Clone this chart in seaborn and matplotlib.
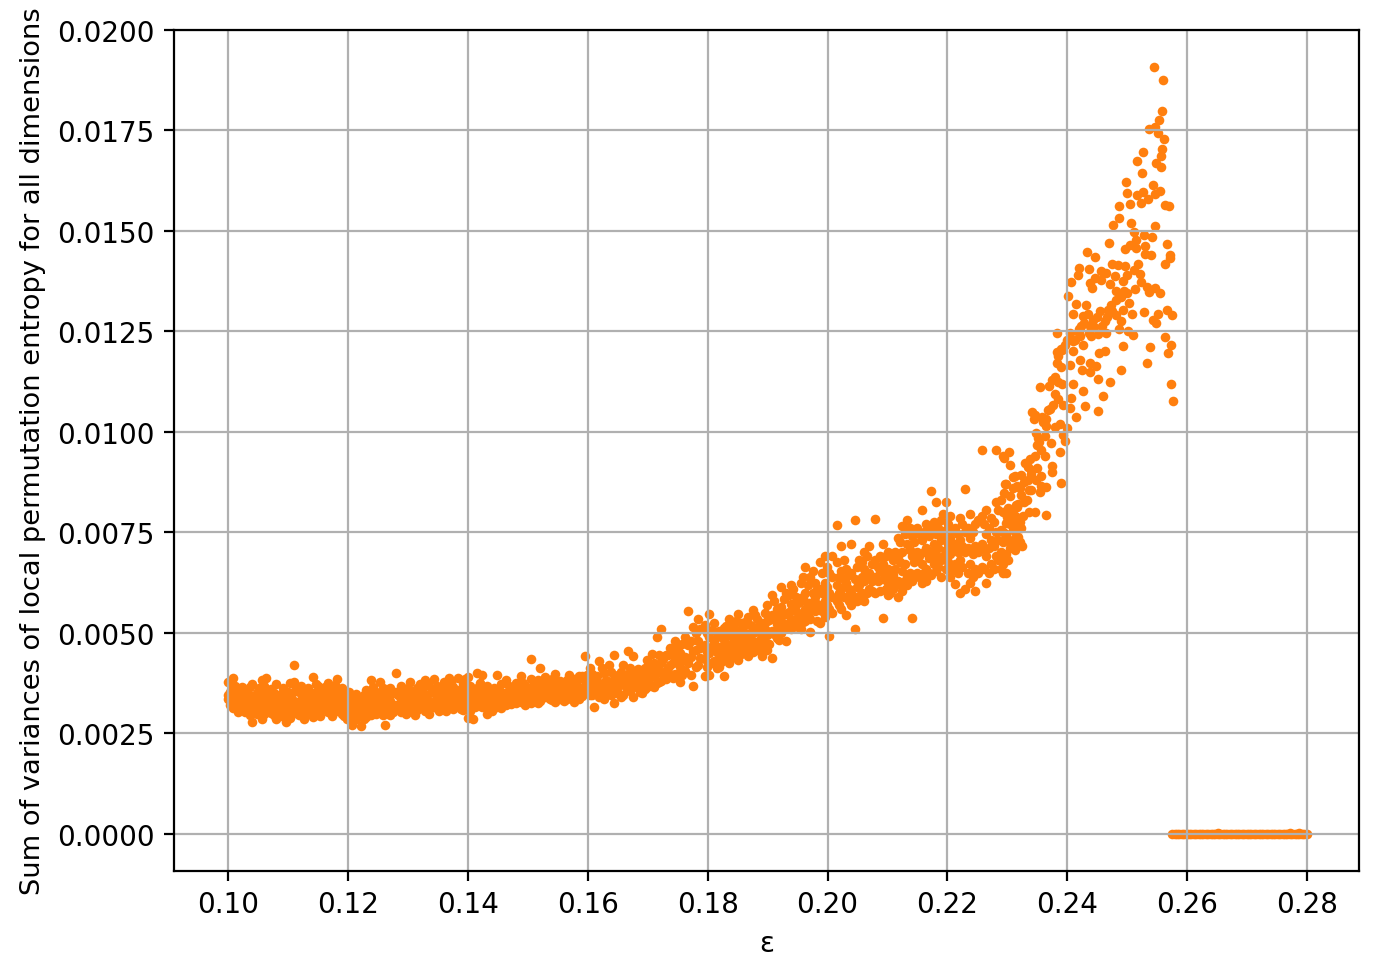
import matplotlib
matplotlib.use('Agg')
import matplotlib.pyplot as plt
import pandas as pd
import seaborn as sns

# each row: epsilon, then the values read at that epsilon
low_band = [
    (0.1000, 0.00378, 0.00345, 0.00335), (0.1008, 0.00388, 0.00362, 0.00328, 0.00312), (0.1016, 0.00352, 0.00330, 0.00302),
    (0.1024, 0.00365, 0.00340, 0.00318), (0.1032, 0.00358, 0.00325, 0.00308), (0.1040, 0.00372, 0.00342, 0.00315, 0.00278),
    (0.1048, 0.00350, 0.00322, 0.00298), (0.1056, 0.00382, 0.00355, 0.00330, 0.00285), (0.1064, 0.00388, 0.00345, 0.00312),
    (0.1072, 0.00360, 0.00335, 0.00300), (0.1080, 0.00372, 0.00328, 0.00305, 0.00285), (0.1088, 0.00348, 0.00318, 0.00292),
    (0.1096, 0.00345, 0.00325, 0.00278), (0.1104, 0.00375, 0.00338, 0.00310, 0.00288), (0.1110, 0.00420, 0.00378, 0.00330, 0.00300),
    (0.1118, 0.00352, 0.00322, 0.00296), (0.1126, 0.00340, 0.00312, 0.00285), (0.1134, 0.00362, 0.00328, 0.00305),
    (0.1142, 0.00390, 0.00350, 0.00318, 0.00290), (0.1150, 0.00368, 0.00335, 0.00300), (0.1158, 0.00355, 0.00325, 0.00310),
    (0.1166, 0.00375, 0.00342, 0.00302), (0.1174, 0.00345, 0.00320, 0.00292), (0.1182, 0.00385, 0.00352, 0.00328, 0.00305),
    (0.1190, 0.00362, 0.00330, 0.00298), (0.1198, 0.00345, 0.00315, 0.00285), (0.1206, 0.00335, 0.00305, 0.00272),
    (0.1214, 0.00348, 0.00318, 0.00285), (0.1222, 0.00332, 0.00300, 0.00268), (0.1230, 0.00358, 0.00325, 0.00290),
    (0.1238, 0.00382, 0.00345, 0.00312, 0.00295), (0.1246, 0.00352, 0.00322, 0.00298), (0.1254, 0.00378, 0.00335, 0.00305),
    (0.1262, 0.00350, 0.00318, 0.00272), (0.1270, 0.00362, 0.00330, 0.00295), (0.1280, 0.00400, 0.00352, 0.00320),
    (0.1288, 0.00368, 0.00335, 0.00302), (0.1296, 0.00345, 0.00318, 0.00298), (0.1304, 0.00378, 0.00340, 0.00310),
    (0.1312, 0.00355, 0.00325, 0.00295), (0.1320, 0.00372, 0.00345, 0.00318), (0.1328, 0.00382, 0.00335, 0.00305),
    (0.1336, 0.00368, 0.00330, 0.00298), (0.1344, 0.00385, 0.00350, 0.00315), (0.1352, 0.00360, 0.00332, 0.00305),
    (0.1360, 0.00378, 0.00345, 0.00312), (0.1368, 0.00388, 0.00352, 0.00322), (0.1376, 0.00365, 0.00335, 0.00310),
    (0.1384, 0.00388, 0.00348, 0.00318), (0.1392, 0.00372, 0.00340, 0.00308), (0.1400, 0.00390, 0.00350, 0.00315, 0.00288),
    (0.1408, 0.00360, 0.00330, 0.00286), (0.1416, 0.00400, 0.00362, 0.00325), (0.1424, 0.00395, 0.00345, 0.00315),
    (0.1432, 0.00368, 0.00332, 0.00298), (0.1440, 0.00355, 0.00325, 0.00305), (0.1448, 0.00395, 0.00348, 0.00318),
    (0.1456, 0.00372, 0.00340, 0.00312), (0.1464, 0.00382, 0.00335, 0.00320), (0.1472, 0.00358, 0.00338, 0.00322),
    (0.1480, 0.00375, 0.00345, 0.00325), (0.1488, 0.00392, 0.00352, 0.00328), (0.1496, 0.00368, 0.00342, 0.00320),
    (0.1505, 0.00435, 0.00385, 0.00348, 0.00325), (0.1513, 0.00378, 0.00352, 0.00332), (0.1521, 0.00412, 0.00362, 0.00330),
    (0.1529, 0.00390, 0.00350, 0.00340), (0.1537, 0.00375, 0.00355, 0.00335), (0.1545, 0.00398, 0.00362, 0.00328),
    (0.1553, 0.00380, 0.00350, 0.00335), (0.1561, 0.00372, 0.00358, 0.00330), (0.1569, 0.00395, 0.00360, 0.00342),
    (0.1577, 0.00385, 0.00352, 0.00328), (0.1585, 0.00392, 0.00362, 0.00335), (0.1595, 0.00442, 0.00380, 0.00350),
    (0.1603, 0.00412, 0.00372, 0.00345), (0.1611, 0.00385, 0.00358, 0.00315), (0.1619, 0.00430, 0.00375, 0.00340),
    (0.1627, 0.00400, 0.00365, 0.00335), (0.1635, 0.00420, 0.00378, 0.00348), (0.1643, 0.00445, 0.00385, 0.00325),
    (0.1651, 0.00395, 0.00368, 0.00350), (0.1659, 0.00420, 0.00382, 0.00345), (0.1667, 0.00455, 0.00398, 0.00358),
    (0.1675, 0.00442, 0.00385, 0.00340), (0.1683, 0.00410, 0.00380, 0.00362), (0.1691, 0.00395, 0.00372, 0.00350),
    (0.1699, 0.00432, 0.00392, 0.00365), (0.1707, 0.00448, 0.00400, 0.00368), (0.1715, 0.00490, 0.00415, 0.00375),
    (0.1722, 0.00510, 0.00425, 0.00380), (0.1730, 0.00445, 0.00405, 0.00385), (0.1738, 0.00462, 0.00420, 0.00392),
    (0.1746, 0.00480, 0.00435, 0.00398), (0.1754, 0.00450, 0.00415, 0.00378), (0.1762, 0.00490, 0.00440, 0.00405),
    (0.1768, 0.00555, 0.00470, 0.00425), (0.1776, 0.00515, 0.00455, 0.00368), (0.1784, 0.00535, 0.00480, 0.00420),
]

# second pass over the same band, the gaps between the first rows
low_fill = [
    (0.1004, 0.00352, 0.00320), (0.1012, 0.00368, 0.00342, 0.00318), (0.1020, 0.00358, 0.00312), (0.1028, 0.00350, 0.00328, 0.00302),
    (0.1036, 0.00365, 0.00336, 0.00295), (0.1044, 0.00332, 0.00308), (0.1052, 0.00362, 0.00335, 0.00312), (0.1060, 0.00368, 0.00322, 0.00298),
    (0.1068, 0.00348, 0.00322), (0.1076, 0.00350, 0.00318, 0.00295), (0.1084, 0.00338, 0.00312), (0.1092, 0.00362, 0.00335, 0.00305),
    (0.1100, 0.00352, 0.00322, 0.00298), (0.1107, 0.00350, 0.00325), (0.1114, 0.00362, 0.00312), (0.1122, 0.00368, 0.00332, 0.00305),
    (0.1130, 0.00350, 0.00322, 0.00298), (0.1138, 0.00345, 0.00315), (0.1146, 0.00372, 0.00335, 0.00305), (0.1154, 0.00350, 0.00318, 0.00292),
    (0.1162, 0.00365, 0.00335), (0.1170, 0.00358, 0.00328, 0.00310), (0.1178, 0.00370, 0.00335, 0.00305), (0.1186, 0.00342, 0.00315),
    (0.1194, 0.00350, 0.00322, 0.00292), (0.1202, 0.00352, 0.00325, 0.00298), (0.1210, 0.00328, 0.00292), (0.1218, 0.00335, 0.00305),
    (0.1226, 0.00345, 0.00315, 0.00285), (0.1234, 0.00335, 0.00305), (0.1242, 0.00365, 0.00332, 0.00305), (0.1250, 0.00342, 0.00312),
    (0.1258, 0.00362, 0.00325, 0.00295), (0.1266, 0.00342, 0.00310), (0.1275, 0.00350, 0.00318, 0.00302), (0.1284, 0.00345, 0.00310),
    (0.1292, 0.00355, 0.00328, 0.00308), (0.1300, 0.00362, 0.00330, 0.00302), (0.1308, 0.00348, 0.00322), (0.1316, 0.00362, 0.00335, 0.00308),
    (0.1324, 0.00355, 0.00325), (0.1332, 0.00372, 0.00345, 0.00318), (0.1340, 0.00358, 0.00322), (0.1348, 0.00368, 0.00338, 0.00312),
    (0.1356, 0.00350, 0.00322), (0.1364, 0.00365, 0.00335, 0.00305), (0.1372, 0.00375, 0.00342, 0.00315), (0.1380, 0.00352, 0.00325),
    (0.1388, 0.00360, 0.00332, 0.00310), (0.1396, 0.00385, 0.00355, 0.00325), (0.1404, 0.00368, 0.00342, 0.00305), (0.1412, 0.00350, 0.00315),
    (0.1420, 0.00375, 0.00352, 0.00332), (0.1428, 0.00358, 0.00325), (0.1436, 0.00350, 0.00312), (0.1444, 0.00362, 0.00335, 0.00312),
    (0.1452, 0.00358, 0.00330), (0.1460, 0.00350, 0.00328), (0.1468, 0.00368, 0.00345, 0.00328), (0.1476, 0.00352, 0.00332),
    (0.1484, 0.00362, 0.00338), (0.1492, 0.00375, 0.00355, 0.00335), (0.1500, 0.00362, 0.00338), (0.1509, 0.00368, 0.00342),
    (0.1517, 0.00382, 0.00350, 0.00325), (0.1525, 0.00375, 0.00345), (0.1533, 0.00362, 0.00345), (0.1541, 0.00385, 0.00345, 0.00332),
    (0.1549, 0.00372, 0.00342), (0.1557, 0.00365, 0.00342), (0.1565, 0.00382, 0.00350, 0.00335), (0.1573, 0.00372, 0.00345),
    (0.1581, 0.00378, 0.00348, 0.00335), (0.1590, 0.00392, 0.00362, 0.00342), (0.1599, 0.00395, 0.00360), (0.1607, 0.00398, 0.00365, 0.00345),
    (0.1615, 0.00392, 0.00352), (0.1623, 0.00412, 0.00365, 0.00340), (0.1631, 0.00382, 0.00352), (0.1639, 0.00402, 0.00368, 0.00345),
    (0.1647, 0.00378, 0.00350), (0.1655, 0.00402, 0.00372, 0.00340), (0.1663, 0.00392, 0.00365), (0.1671, 0.00412, 0.00378, 0.00355),
    (0.1679, 0.00402, 0.00368), (0.1687, 0.00395, 0.00372, 0.00352), (0.1695, 0.00412, 0.00380, 0.00360), (0.1703, 0.00415, 0.00385),
    (0.1711, 0.00425, 0.00392, 0.00365), (0.1719, 0.00445, 0.00405, 0.00378), (0.1726, 0.00435, 0.00395), (0.1734, 0.00445, 0.00412, 0.00392),
    (0.1742, 0.00452, 0.00425, 0.00388), (0.1750, 0.00465, 0.00428, 0.00395), (0.1758, 0.00472, 0.00432, 0.00395), (0.1772, 0.00480, 0.00440, 0.00395),
    (0.1780, 0.00500, 0.00458, 0.00415), (0.1788, 0.00510, 0.00462, 0.00438),
]

mid_band = [
    (0.1795, 0.00520, 0.00470, 0.00435, 0.00392), (0.1803, 0.00548, 0.00490, 0.00450, 0.00395), (0.1811, 0.00525, 0.00475, 0.00430),
    (0.1819, 0.00505, 0.00465, 0.00442, 0.00415), (0.1827, 0.00512, 0.00482, 0.00440, 0.00392), (0.1835, 0.00535, 0.00495, 0.00455, 0.00425),
    (0.1843, 0.00520, 0.00478, 0.00445), (0.1851, 0.00548, 0.00505, 0.00465, 0.00432), (0.1859, 0.00515, 0.00488, 0.00450),
    (0.1867, 0.00540, 0.00498, 0.00470, 0.00442), (0.1875, 0.00558, 0.00515, 0.00480, 0.00452), (0.1883, 0.00535, 0.00505, 0.00465),
    (0.1891, 0.00525, 0.00490, 0.00472, 0.00442), (0.1899, 0.00570, 0.00530, 0.00495, 0.00458), (0.1907, 0.00595, 0.00545, 0.00505, 0.00438),
    (0.1915, 0.00560, 0.00522, 0.00488), (0.1923, 0.00615, 0.00565, 0.00530, 0.00500), (0.1931, 0.00600, 0.00548, 0.00515, 0.00480),
    (0.1939, 0.00618, 0.00572, 0.00535, 0.00510), (0.1947, 0.00590, 0.00555, 0.00522), (0.1955, 0.00625, 0.00580, 0.00545, 0.00510),
    (0.1963, 0.00665, 0.00600, 0.00560, 0.00530), (0.1971, 0.00640, 0.00575, 0.00535, 0.00502), (0.1979, 0.00625, 0.00590, 0.00555),
    (0.1987, 0.00675, 0.00610, 0.00565, 0.00525), (0.1995, 0.00690, 0.00625, 0.00580, 0.00540), (0.2003, 0.00650, 0.00600, 0.00560, 0.00491),
    (0.2015, 0.00768, 0.00675, 0.00620, 0.00580), (0.2023, 0.00715, 0.00655, 0.00610, 0.00560), (0.2031, 0.00660, 0.00625, 0.00590, 0.00545),
    (0.2039, 0.00720, 0.00650, 0.00600, 0.00570), (0.2045, 0.00780, 0.00635, 0.00585, 0.00510), (0.2053, 0.00680, 0.00620, 0.00592),
    (0.2061, 0.00700, 0.00660, 0.00630, 0.00580), (0.2069, 0.00715, 0.00650, 0.00610), (0.2080, 0.00784, 0.00680, 0.00640, 0.00600),
    (0.2088, 0.00690, 0.00655, 0.00605), (0.2093, 0.00720, 0.00670, 0.00635, 0.00537), (0.2101, 0.00700, 0.00660, 0.00625, 0.00595),
    (0.2109, 0.00680, 0.00645, 0.00610), (0.2117, 0.00735, 0.00690, 0.00630, 0.00590), (0.2125, 0.00765, 0.00700, 0.00655, 0.00605),
    (0.2133, 0.00780, 0.00720, 0.00640, 0.00620), (0.2141, 0.00740, 0.00690, 0.00630, 0.00537), (0.2149, 0.00760, 0.00700, 0.00650),
    (0.2157, 0.00805, 0.00730, 0.00670, 0.00625), (0.2165, 0.00770, 0.00710, 0.00660, 0.00630), (0.2173, 0.00854, 0.00760, 0.00700, 0.00645),
    (0.2181, 0.00825, 0.00745, 0.00690, 0.00655), (0.2189, 0.00780, 0.00730, 0.00680, 0.00640), (0.2197, 0.00825, 0.00755, 0.00705, 0.00660),
    (0.2205, 0.00790, 0.00735, 0.00695, 0.00640), (0.2213, 0.00760, 0.00720, 0.00670, 0.00622), (0.2221, 0.00785, 0.00730, 0.00680, 0.00600),
    (0.2230, 0.00858, 0.00750, 0.00700, 0.00610), (0.2238, 0.00795, 0.00735, 0.00670, 0.00625), (0.2246, 0.00770, 0.00715, 0.00660, 0.00605),
    (0.2257, 0.00955, 0.00790, 0.00720, 0.00665), (0.2265, 0.00805, 0.00745, 0.00690, 0.00625), (0.2273, 0.00785, 0.00730, 0.00670),
    (0.2281, 0.00955, 0.00825, 0.00750, 0.00690), (0.2289, 0.00830, 0.00755, 0.00700, 0.00660), (0.2297, 0.00870, 0.00745, 0.00695, 0.00650),
    (0.2305, 0.00840, 0.00770, 0.00710), (0.2313, 0.00890, 0.00790, 0.00735, 0.00705), (0.2321, 0.00860, 0.00775, 0.00725),
]

mid_fill = [
    (0.1799, 0.00500, 0.00452, 0.00415), (0.1807, 0.00508, 0.00462, 0.00425), (0.1815, 0.00490, 0.00452, 0.00412), (0.1823, 0.00495, 0.00458, 0.00428),
    (0.1831, 0.00518, 0.00472, 0.00435), (0.1839, 0.00505, 0.00468, 0.00438), (0.1847, 0.00530, 0.00490, 0.00455), (0.1855, 0.00525, 0.00478, 0.00448),
    (0.1863, 0.00528, 0.00482, 0.00462), (0.1871, 0.00520, 0.00488, 0.00458), (0.1879, 0.00545, 0.00502, 0.00468), (0.1887, 0.00518, 0.00482, 0.00455),
    (0.1895, 0.00550, 0.00510, 0.00478), (0.1903, 0.00532, 0.00502, 0.00472), (0.1911, 0.00578, 0.00535, 0.00498), (0.1919, 0.00545, 0.00512, 0.00482),
    (0.1927, 0.00585, 0.00548, 0.00515), (0.1935, 0.00595, 0.00552, 0.00525), (0.1943, 0.00608, 0.00565, 0.00530), (0.1951, 0.00575, 0.00540, 0.00515),
    (0.1959, 0.00640, 0.00590, 0.00550, 0.00528), (0.1967, 0.00620, 0.00575, 0.00545), (0.1975, 0.00655, 0.00600, 0.00560), (0.1983, 0.00610, 0.00572, 0.00530),
    (0.1991, 0.00650, 0.00598, 0.00555), (0.1999, 0.00665, 0.00615, 0.00570), (0.2007, 0.00690, 0.00640, 0.00590, 0.00550), (0.2019, 0.00640, 0.00600, 0.00570),
    (0.2027, 0.00680, 0.00635, 0.00590), (0.2035, 0.00645, 0.00610, 0.00580), (0.2049, 0.00665, 0.00615, 0.00578), (0.2057, 0.00675, 0.00640, 0.00600),
    (0.2065, 0.00690, 0.00640, 0.00600), (0.2075, 0.00670, 0.00630, 0.00605), (0.2085, 0.00665, 0.00630), (0.2097, 0.00690, 0.00650, 0.00610),
    (0.2105, 0.00695, 0.00640, 0.00600), (0.2113, 0.00700, 0.00660, 0.00625), (0.2121, 0.00725, 0.00675, 0.00620), (0.2129, 0.00745, 0.00670, 0.00630),
    (0.2137, 0.00760, 0.00705, 0.00650), (0.2145, 0.00725, 0.00675, 0.00640), (0.2153, 0.00745, 0.00690, 0.00640), (0.2161, 0.00750, 0.00700, 0.00650),
    (0.2169, 0.00740, 0.00685, 0.00650), (0.2177, 0.00775, 0.00720, 0.00670), (0.2185, 0.00760, 0.00710, 0.00665), (0.2193, 0.00795, 0.00740, 0.00690),
    (0.2201, 0.00770, 0.00720, 0.00675), (0.2209, 0.00755, 0.00705, 0.00660), (0.2217, 0.00745, 0.00700, 0.00650), (0.2225, 0.00770, 0.00715, 0.00665),
    (0.2234, 0.00760, 0.00710, 0.00650), (0.2242, 0.00750, 0.00695, 0.00640), (0.2251, 0.00780, 0.00700, 0.00650), (0.2261, 0.00770, 0.00710, 0.00660),
    (0.2269, 0.00760, 0.00710, 0.00650), (0.2277, 0.00775, 0.00715, 0.00660), (0.2285, 0.00805, 0.00730, 0.00680), (0.2293, 0.00940, 0.00800, 0.00725, 0.00670),
    (0.2301, 0.00810, 0.00730, 0.00680), (0.2309, 0.00860, 0.00755, 0.00720), (0.2317, 0.00820, 0.00760, 0.00720),
]

# sparse upper part, single points
top_eps = [
    0.25439, 0.25589, 0.25572, 0.25522, 0.25456, 0.25356, 0.25506, 0.25606, 0.25572, 0.25556, 0.25256, 0.25156,
    0.25483, 0.25556, 0.25239, 0.24972, 0.25422, 0.24989, 0.25544, 0.25167, 0.25261, 0.25456, 0.25344, 0.25222,
    0.25039, 0.24856, 0.25628, 0.25694, 0.24856, 0.24756, 0.25067, 0.25456, 0.25106, 0.25278, 0.25406, 0.24689,
    0.25150, 0.25039, 0.24956, 0.25139, 0.25300, 0.25656, 0.24322, 0.24456, 0.25289, 0.25389, 0.25706, 0.25706,
    0.25622, 0.24750, 0.24844, 0.24956, 0.25172, 0.24189, 0.24356, 0.24172, 0.25106, 0.25206, 0.24556, 0.24650,
    0.24800, 0.24989, 0.24456, 0.24567, 0.24056, 0.24372, 0.24706, 0.24922, 0.25222, 0.25322, 0.24417, 0.25456,
    0.25544, 0.24006, 0.24806, 0.24944, 0.25122, 0.25356, 0.25000, 0.24150, 0.24306, 0.24817, 0.25022, 0.24733,
    0.24539, 0.24678, 0.24928, 0.25072, 0.25278, 0.25656, 0.25739, 0.25511, 0.25433, 0.25472, 0.24094, 0.24261,
    0.24344, 0.24428, 0.24622, 0.24889, 0.24233, 0.24372, 0.24861, 0.25011, 0.25089, 0.23822, 0.24189, 0.24400,
    0.24511, 0.24644, 0.25622, 0.25722, 0.25678, 0.25372, 0.24922, 0.25322, 0.24622, 0.24522, 0.23994, 0.24094,
    0.24261, 0.24206, 0.23822, 0.23917, 0.24094, 0.23844, 0.24206, 0.24372, 0.24483, 0.24039, 0.23889, 0.24239,
    0.24383, 0.24889, 0.23789, 0.24506, 0.24706, 0.23844, 0.23917, 0.24089, 0.23539, 0.23694, 0.25722, 0.24256,
    0.23789, 0.24589, 0.24061, 0.23844, 0.25756, 0.23761, 0.23928, 0.24289, 0.24039, 0.23706, 0.23411, 0.23456,
    0.24506, 0.23578, 0.23644, 0.23439, 0.24139, 0.23644, 0.23883, 0.23789, 0.23989, 0.23472, 0.23622, 0.23928,
    0.23511, 0.23733, 0.23956, 0.23494, 0.23567, 0.23872, 0.23622, 0.23022, 0.22944, 0.23039, 0.23378, 0.23289,
    0.23750, 0.23739, 0.23500, 0.23400, 0.23567, 0.23233, 0.23094, 0.23344, 0.23889, 0.22956, 0.23167, 0.23639,
    0.23544, 0.23389, 0.22944, 0.23278, 0.23333, 0.23139, 0.23083, 0.23361, 0.23461, 0.23639, 0.23194, 0.23000,
    0.22983, 0.23150, 0.23233, 0.22928, 0.23178, 0.23067, 0.23250, 0.23122, 0.22967, 0.22967, 0.22928,
    0.2420, 0.2428, 0.2436, 0.2444, 0.2450, 0.2458, 0.2466, 0.2474, 0.2482, 0.2490, 0.2412, 0.2404, 0.2396,
    0.2390, 0.2382, 0.2374, 0.2368, 0.2360, 0.2352, 0.2346, 0.2340, 0.2334, 0.2328, 0.2322, 0.2316, 0.2310,
    0.2304, 0.2298, 0.2336, 0.2348, 0.2356, 0.2326, 0.2318,
]
top_var = [
    0.01907, 0.01874, 0.01797, 0.01776, 0.01759, 0.01754, 0.01744, 0.01727, 0.01703, 0.01686, 0.01697, 0.01674,
    0.01669, 0.01659, 0.01644, 0.01622, 0.01614, 0.01593, 0.01599, 0.01589, 0.01596, 0.01592, 0.01578, 0.01569,
    0.01567, 0.01562, 0.01565, 0.01562, 0.01532, 0.01514, 0.01519, 0.01512, 0.01498, 0.01489, 0.01484, 0.01469,
    0.01478, 0.01465, 0.01454, 0.01456, 0.01463, 0.01467, 0.01447, 0.01434, 0.01443, 0.01439, 0.01439, 0.01432,
    0.01417, 0.01417, 0.01415, 0.01412, 0.01417, 0.01407, 0.01404, 0.01389, 0.01402, 0.01393, 0.01401, 0.01396,
    0.01388, 0.01389, 0.01382, 0.01378, 0.01372, 0.01369, 0.01368, 0.01374, 0.01372, 0.01361, 0.01357, 0.01357,
    0.01344, 0.01337, 0.01349, 0.01349, 0.01354, 0.01347, 0.01345, 0.01319, 0.01316, 0.01327, 0.01321, 0.01316,
    0.01300, 0.01302, 0.01304, 0.01292, 0.01298, 0.01302, 0.01290, 0.01292, 0.01277, 0.01271, 0.01292, 0.01289,
    0.01292, 0.01279, 0.01275, 0.01275, 0.01262, 0.01262, 0.01256, 0.01250, 0.01241, 0.01246, 0.01246, 0.01238,
    0.01242, 0.01246, 0.01236, 0.01216, 0.01196, 0.01211, 0.01213, 0.01171, 0.01201, 0.01196, 0.01228, 0.01225,
    0.01216, 0.01238, 0.01199, 0.01203, 0.01200, 0.01189, 0.01179, 0.01171, 0.01164, 0.01165, 0.01161, 0.01154,
    0.01149, 0.01154, 0.01136, 0.01131, 0.01124, 0.01125, 0.01119, 0.01119, 0.01111, 0.01114, 0.01120, 0.01101,
    0.01094, 0.01089, 0.01084, 0.01081, 0.01076, 0.01067, 0.01066, 0.01064, 0.01059, 0.01056, 0.01049, 0.01043,
    0.01051, 0.01037, 0.01032, 0.01032, 0.01037, 0.01015, 0.01019, 0.01012, 0.01009, 0.00997, 0.00990, 0.00993,
    0.00984, 0.00973, 0.00978, 0.00967, 0.00955, 0.00949, 0.00939, 0.00949, 0.00934, 0.00918, 0.00932, 0.00922,
    0.00914, 0.00899, 0.00909, 0.00905, 0.00889, 0.00893, 0.00887, 0.00880, 0.00872, 0.00870, 0.00864, 0.00862,
    0.00851, 0.00855, 0.00847, 0.00826, 0.00831, 0.00818, 0.00801, 0.00800, 0.00800, 0.00792, 0.00785, 0.00789,
    0.00772, 0.00768, 0.00760, 0.00752, 0.00739, 0.00727, 0.00716, 0.00710, 0.00693, 0.00681, 0.00650,
    0.01255, 0.01270, 0.01245, 0.01260, 0.01285, 0.01262, 0.01285, 0.01300, 0.01290, 0.01335, 0.01228, 0.01245, 0.01215,
    0.01205, 0.01172, 0.01128, 0.01055, 0.01025, 0.00975, 0.00940, 0.00895, 0.00912, 0.00875, 0.00842, 0.00812, 0.00795,
    0.00775, 0.00740, 0.00855, 0.00880, 0.00865, 0.00790, 0.00765,
]

# after the transition everything sits at about zero
zero_eps = [
    0.2575, 0.2579, 0.2583, 0.2587, 0.2591, 0.2595, 0.2599, 0.2603, 0.2607, 0.2611, 0.2615, 0.2619, 0.2623, 0.2627, 0.2631,
    0.2635, 0.2639, 0.2643, 0.2647, 0.2651, 0.2655, 0.2659, 0.2663, 0.2667, 0.2671, 0.2675, 0.2679, 0.2683, 0.2687, 0.2691,
    0.2695, 0.2699, 0.2703, 0.2707, 0.2711, 0.2715, 0.2719, 0.2723, 0.2727, 0.2731, 0.2735, 0.2739, 0.2743, 0.2747, 0.2751,
    0.2755, 0.2759, 0.2763, 0.2767, 0.2771, 0.2775, 0.2779, 0.2783, 0.2787, 0.2791, 0.2795, 0.2800, 0.2652, 0.2772, 0.2786,
]
zero_var = [
    0.0, 0.0, 0.0, 0.0, 0.0, 0.0, 0.0, 0.0, 0.0, 0.0, 0.0, 0.0, 0.0, 0.0, 0.0,
    0.0, 0.0, 0.0, 0.0, 0.0, 0.0, 0.0, 0.0, 0.0, 0.0, 0.0, 0.0, 0.0, 0.0, 0.0,
    0.0, 0.0, 0.0, 0.0, 0.0, 0.0, 0.0, 0.0, 0.0, 0.0, 0.0, 0.0, 0.0, 0.0, 0.0,
    0.0, 0.0, 0.0, 0.0, 0.0, 0.0, 0.0, 0.0, 0.0, 0.0, 0.0, 0.0, 0.00003, 0.00002, 0.00003,
]

eps_ticks = [0.10, 0.12, 0.14, 0.16, 0.18, 0.20, 0.22, 0.24, 0.26, 0.28]
var_ticks = [0.0, 0.0025, 0.005, 0.0075, 0.01, 0.0125, 0.015, 0.0175, 0.02]

eps = list(top_eps) + list(zero_eps)
var = list(top_var) + list(zero_var)
for row in low_band + low_fill + mid_band + mid_fill:
    for v in row[1:]:
        eps.append(row[0])
        var.append(v)
df = pd.DataFrame({'eps': eps, 'var': var})

fig, ax = plt.subplots(figsize=(6.895, 4.895), dpi=200)
fig.subplots_adjust(left=174.1 / 1379, right=1359.1 / 1379, top=1 - 30.7 / 979, bottom=1 - 871.9 / 979)

sns.scatterplot(data=df, x='eps', y='var', color='#ff7f0e', s=12, linewidth=0, ax=ax)

ax.set_xticks(eps_ticks)
ax.set_yticks(var_ticks)
ax.set_xticklabels([f'{t:.2f}' for t in eps_ticks])
ax.set_yticklabels([f'{t:.4f}' for t in var_ticks])
ax.set_xlim(0.09100, 0.28867)
ax.set_ylim(-0.00092, 0.02)
ax.set_xlabel('ε')
ax.set_ylabel('Sum of variances of local permutation entropy for all dimensions', fontsize=9.8)
ax.grid(True)

fig.savefig('out.png', dpi=200)
